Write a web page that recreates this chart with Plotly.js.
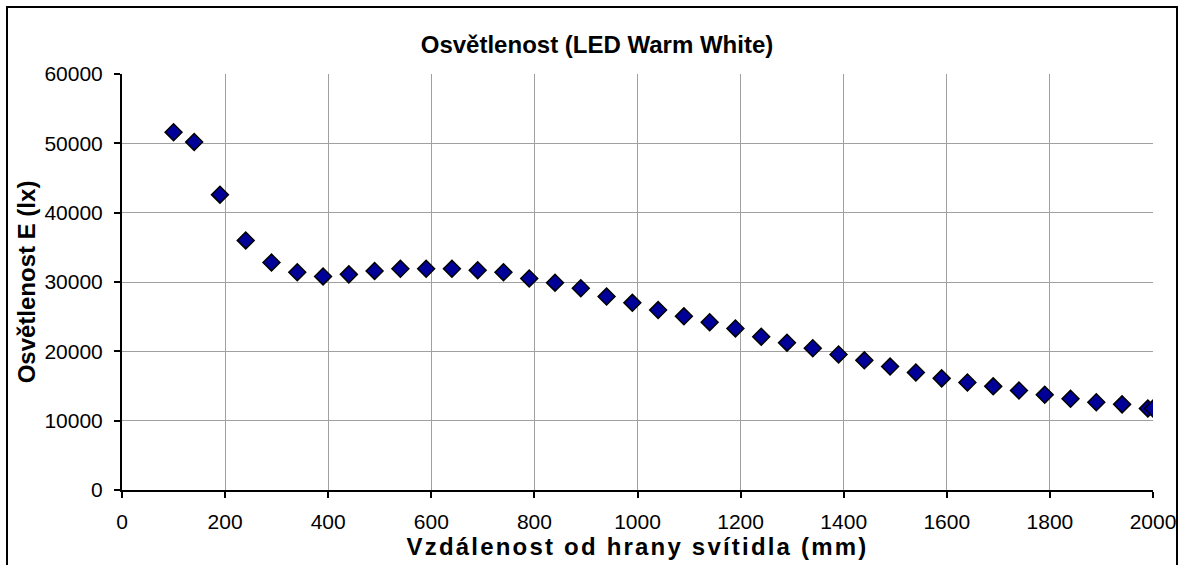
<!DOCTYPE html>
<html>
<head>
<meta charset="utf-8">
<script src="https://cdn.plot.ly/plotly-3.0.1.min.js"></script>
<style>
html,body{margin:0;padding:0;background:#fff;}
#frame{position:absolute;left:6px;top:6px;width:1172px;height:565px;border:2px solid #000;box-sizing:border-box;}
#chart{position:absolute;left:0;top:0;width:1184px;height:565px;}
</style>
</head>
<body>
<div id="chart"></div>
<div id="frame"></div>
<script>
const distance = [100,140,190,240,290,340,390,440,490,540,590,640,690,740,790,840,890,940,990,1040,1090,1140,1190,1240,1290,1340,1390,1440,1490,1540,1590,1640,1690,1740,1790,1840,1890,1940,1990,2000];
const illuminance = [51600,50200,42600,36000,32800,31400,30800,31100,31600,31900,31900,31900,31700,31400,30500,29900,29100,27900,27000,25950,25050,24200,23300,22100,21250,20450,19550,18700,17800,16950,16100,15500,14950,14350,13750,13150,12650,12350,11750,11750];
const xTicks = [0,200,400,600,800,1000,1200,1400,1600,1800,2000];
const yTicks = [0,10000,20000,30000,40000,50000,60000];

const fam = 'Arial, "Liberation Sans", sans-serif';
const tickFont = {family:fam, size:21, color:'#000'};
const titleFont = {family:fam, size:24, color:'#000'};

Plotly.newPlot('chart', [{
  x: distance, y: illuminance, type:'scatter', mode:'markers',
  marker:{symbol:'diamond', size:13, color:'#000099', line:{color:'#000', width:1.5}},
  hoverinfo:'x+y'
}], {
  width:1184, height:565,
  margin:{l:122, r:31, t:74, b:75},
  paper_bgcolor:'#fff', plot_bgcolor:'#fff',
  font: tickFont,
  showlegend:false,
  title:{text:'<b>Osvětlenost (LED Warm White)</b>', x:597/1184, xref:'container', xanchor:'center', y:1-45/565, yref:'container', yanchor:'middle', font:titleFont},
  xaxis:{
    range:[0,2000], tickvals:xTicks, ticktext:xTicks.map(String),
    showgrid:true, gridcolor:'#a0a0a0', gridwidth:1,
    showline:true, linecolor:'#000', linewidth:2,
    ticks:'outside', ticklen:6, tickwidth:2, tickcolor:'#000',
    zeroline:false, tickfont:tickFont, ticklabelstandoff:6,
    title:{text:'<b>Vzdálenost od hrany svítidla (mm)</b>', font:titleFont, standoff:0}
  },
  yaxis:{
    range:[0,60000], tickvals:yTicks, ticktext:yTicks.map(String),
    showgrid:true, gridcolor:'#a0a0a0', gridwidth:1,
    showline:true, linecolor:'#000', linewidth:2,
    ticks:'outside', ticklen:6, tickwidth:2, tickcolor:'#000',
    zeroline:false, tickfont:tickFont, ticklabelstandoff:7,
    title:{text:'<b>Osvětlenost E (lx)</b>', font:titleFont, standoff:2}
  }
}, {displayModeBar:false, staticPlot:true}).then(function(){
  const xt = document.querySelector('.g-xtitle text');
  if (xt) xt.style.letterSpacing = '2.2px';
});
</script>
</body>
</html>
